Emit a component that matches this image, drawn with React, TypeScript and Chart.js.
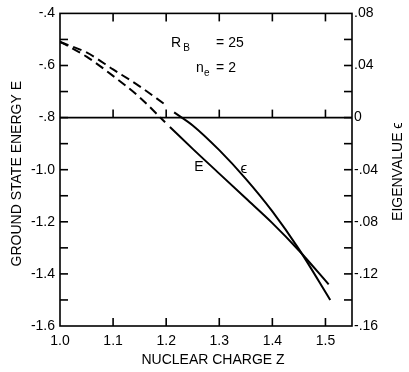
import React, { useEffect, useRef } from 'react';
import { Chart, registerables } from 'chart.js';

Chart.register(...registerables);

// ---- Data ----
// Ground state energy E (left axis), dashed and solid parts
const eDashX = [1.0, 1.05, 1.10, 1.15, 1.198];
const eDashY = [-0.508, -0.566, -0.640, -0.722, -0.818];
const eSolidX = [1.207, 1.25, 1.30, 1.35, 1.40, 1.45, 1.506];
const eSolidY = [-0.836, -0.920, -1.015, -1.110, -1.205, -1.310, -1.440];
// Eigenvalue epsilon (right axis), dashed and solid parts
const epsDashX = [1.0, 1.05, 1.10, 1.15, 1.198];
const epsDashY = [0.058, 0.050, 0.037, 0.024, 0.010];
const epsSolidX = [1.215, 1.25, 1.30, 1.35, 1.40, 1.45, 1.509];
const epsSolidY = [0.004, -0.006, -0.025, -0.047, -0.072, -0.101, -0.140];

// Axes
const xMin = 1.0;
const xMax = 1.55;
const xStep = 0.1;
const eMin = -1.6;
const eMax = -0.4;
const eStep = 0.2;
const epsMin = -0.16;
const epsMax = 0.08;
const epsStep = 0.04;
const refLineE = -0.8;
const xMinorTicks = [1.1, 1.2, 1.3, 1.4, 1.5];
const eMinorTicks = [-1.5, -1.4, -1.3, -1.2, -1.1, -1.0, -0.9, -0.8, -0.7, -0.6, -0.5];
const epsMinorTicks = [-0.14, -0.12, -0.10, -0.08, -0.06, -0.04, -0.02, 0, 0.02, 0.04, 0.06];

// Labels
const xTitle = 'NUCLEAR CHARGE Z';
const yTitle = 'GROUND STATE ENERGY E';
const y2Title = 'EIGENVALUE \u03F5';
const notes = [
  { text: 'R', x: 1.209, y: -0.514, size: 14 },
  { text: 'B', x: 1.232, y: -0.535, size: 10 },
  { text: '= 25', x: 1.294, y: -0.514, size: 14 },
  { text: 'n', x: 1.256, y: -0.610, size: 14 },
  { text: 'e', x: 1.271, y: -0.630, size: 10 },
  { text: '= 2', x: 1.294, y: -0.610, size: 14 },
  { text: 'E', x: 1.253, y: -0.990, size: 14 },
  { text: '\u03F5', x: 1.340, y: -0.995, size: 15 },
];

const FONT = "'Liberation Sans', Arial, sans-serif";

const fmtE = (v: number) => {
  const r = Math.round(v * 10) / 10;
  const a = Math.abs(r).toFixed(1);
  return (r < 0 ? '-' : '') + (Math.abs(r) < 1 ? a.slice(1) : a);
};
const fmtEps = (v: number) => {
  const r = Math.round(v * 100) / 100;
  if (r === 0) return '0';
  return (r < 0 ? '-' : '') + Math.abs(r).toFixed(2).slice(1);
};

const pts = (xs: number[], ys: number[]) => xs.map((x, i) => ({ x, y: ys[i] }));

const framePlugin = {
  id: 'frameTicks',
  afterDatasetsDraw(chart: any) {
    const { ctx, chartArea: a, scales } = chart;
    const sx = scales.x, sy = scales.y, sy2 = scales.y2;
    const line = (x1: number, y1: number, x2: number, y2: number) => {
      ctx.beginPath();
      ctx.moveTo(x1, y1);
      ctx.lineTo(x2, y2);
      ctx.stroke();
    };
    ctx.save();
    ctx.strokeStyle = '#000';
    ctx.lineWidth = 1.6;
    ctx.setLineDash([]);
    ctx.strokeRect(a.left, a.top, a.right - a.left, a.bottom - a.top);
    const yl = sy.getPixelForValue(refLineE);
    line(a.left, yl, a.right, yl);
    const T = 8;
    eMinorTicks.forEach((v) => {
      const p = sy.getPixelForValue(v);
      line(a.left, p, a.left + T, p);
    });
    epsMinorTicks.forEach((v) => {
      const p = sy2.getPixelForValue(v);
      line(a.right - T, p, a.right, p);
    });
    xMinorTicks.forEach((v) => {
      const p = sx.getPixelForValue(v);
      line(p, a.top, p, a.top + T);
      line(p, a.bottom, p, a.bottom - T);
      line(p, yl, p, yl - T);
    });

    ctx.fillStyle = '#000';
    ctx.textBaseline = 'middle';
    ctx.textAlign = 'left';
    notes.forEach((n) => {
      ctx.font = `${n.size}px ${FONT}`;
      ctx.fillText(n.text, sx.getPixelForValue(n.x), sy.getPixelForValue(n.y));
    });

    ctx.font = `14px ${FONT}`;
    ctx.textAlign = 'center';
    ctx.fillText(xTitle, (a.left + a.right) / 2 + 7, a.bottom + 34);

    ctx.save();
    ctx.translate(a.left - 43, (a.top + a.bottom) / 2 + 4);
    ctx.rotate(-Math.PI / 2);
    ctx.fillText(yTitle, 0, 0);
    ctx.restore();

    ctx.save();
    ctx.translate(a.right + 46, (a.top + a.bottom) / 2 + 2);
    ctx.rotate(-Math.PI / 2);
    ctx.fillText(y2Title, 0, 0);
    ctx.restore();

    ctx.restore();
  },
};

export default function App() {
  const ref = useRef<HTMLCanvasElement | null>(null);
  useEffect(() => {
    if (!ref.current) return;
    const lineStyle = {
      borderColor: '#000',
      borderWidth: 2,
      pointRadius: 0,
      fill: false,
      cubicInterpolationMode: 'monotone' as const,
    };
    const tickFont = { family: FONT, size: 14 };
    const chart = new Chart(ref.current, {
      type: 'line',
      data: {
        datasets: [
          { ...lineStyle, label: 'E dashed', data: pts(eDashX, eDashY), yAxisID: 'y', borderDash: [9, 5] },
          { ...lineStyle, label: 'E', data: pts(eSolidX, eSolidY), yAxisID: 'y' },
          { ...lineStyle, label: 'eps dashed', data: pts(epsDashX, epsDashY), yAxisID: 'y2', borderDash: [9, 5] },
          { ...lineStyle, label: 'eps', data: pts(epsSolidX, epsSolidY), yAxisID: 'y2' },
        ],
      },
      options: {
        animation: false,
        responsive: false,
        devicePixelRatio: 1,
        layout: { padding: { top: 10, left: 0, right: 0, bottom: 0 } },
        plugins: { legend: { display: false }, tooltip: { enabled: false } },
        scales: {
          x: {
            type: 'linear',
            min: xMin,
            max: xMax,
            grid: { display: false, drawTicks: false },
            border: { display: false },
            ticks: {
              stepSize: xStep,
              includeBounds: false,
              color: '#000',
              font: tickFont,
              padding: 7,
              maxRotation: 0,
              callback: (v: any) => (Math.round(v * 10) / 10).toFixed(1),
            },
            afterFit: (s: any) => { s.height = 46; },
          },
          y: {
            type: 'linear',
            position: 'left',
            min: eMin,
            max: eMax,
            grid: { display: false, drawTicks: false },
            border: { display: false },
            ticks: { stepSize: eStep, color: '#000', font: tickFont, padding: 5, callback: (v: any) => fmtE(v) },
            afterFit: (s: any) => { s.width = 60; },
          },
          y2: {
            type: 'linear',
            position: 'right',
            min: epsMin,
            max: epsMax,
            grid: { display: false, drawTicks: false },
            border: { display: false },
            ticks: { stepSize: epsStep, color: '#000', font: tickFont, padding: 2, callback: (v: any) => fmtEps(v) },
            afterFit: (s: any) => { s.width = 57; },
          },
        },
      },
      plugins: [framePlugin],
    });
    return () => chart.destroy();
  }, []);
  return (
    <div style={{ position: 'absolute', left: 0, top: 0, width: 409, height: 372, background: '#fff' }}>
      <canvas ref={ref} width={409} height={372} style={{ display: 'block' }} />
    </div>
  );
}
